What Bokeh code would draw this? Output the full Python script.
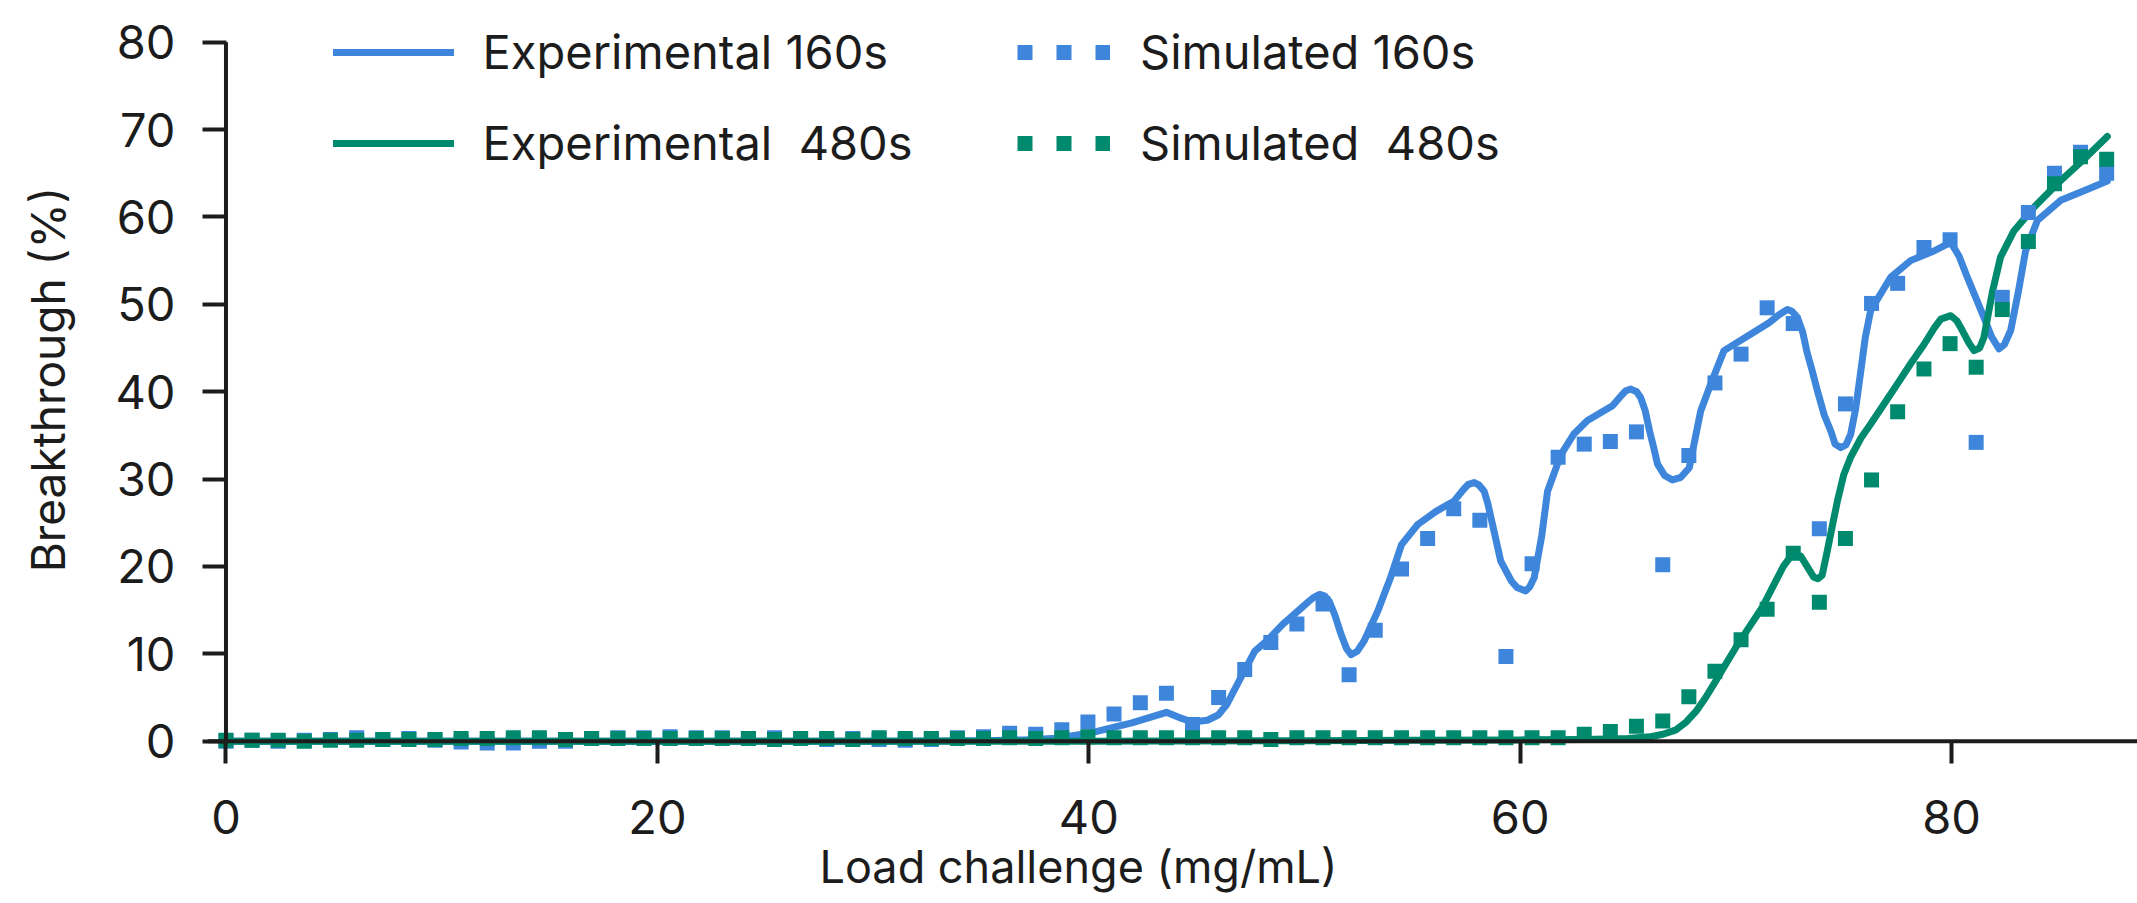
from bokeh.plotting import figure
from bokeh.models import ColumnDataSource, Legend, LegendItem, Range1d, Span, Title
from bokeh.embed import file_html
from bokeh.resources import INLINE

# ---------------- data ----------------
sim_x = [0.0, 1.21, 2.42, 3.63, 4.84, 6.06, 7.27, 8.48, 9.69, 10.9,
         12.11, 13.32, 14.53, 15.74, 16.95, 18.17, 19.38, 20.59, 21.8, 23.01,
         24.22, 25.43, 26.64, 27.85, 29.06, 30.28, 31.49, 32.7, 33.91, 35.12,
         36.33, 37.54, 38.75, 39.96, 41.17, 42.39, 43.6, 44.81, 46.02, 47.23,
         48.44, 49.65, 50.86, 52.07, 53.28, 54.5, 55.71, 56.92, 58.13, 59.34,
         60.55, 61.76, 62.97, 64.18, 65.39, 66.61, 67.82, 69.03, 70.24, 71.45,
         72.66, 73.87, 75.08, 76.29, 77.5, 78.72, 79.93, 81.14, 82.35, 83.56,
         84.77, 85.98, 87.19]

sim_160 = [0.0, 0.1, 0.0, 0.1, 0.2, 0.4, 0.2, 0.3, 0.1, -0.1,
           -0.2, -0.2, 0.0, 0.0, 0.3, 0.4, 0.4, 0.5, 0.4, 0.4,
           0.3, 0.4, 0.3, 0.2, 0.3, 0.2, 0.1, 0.2, 0.4, 0.5,
           0.9, 0.8, 1.3, 2.2, 3.1, 4.4, 5.5, 1.9, 5.0, 8.2,
           11.3, 13.4, 15.7, 7.6, 12.7, 19.7, 23.2, 26.6, 25.3, 9.7,
           20.3, 32.5, 34.0, 34.3, 35.4, 20.2, 32.7, 41.0, 44.3, 49.6,
           47.8, 24.3, 38.6, 50.1, 52.4, 56.5, 57.4, 34.2, 50.8, 60.5,
           65.0, 67.4, 65.0]

sim_480 = [0.1, 0.1, 0.1, 0.0, 0.1, 0.1, 0.2, 0.2, 0.2, 0.3,
           0.3, 0.4, 0.4, 0.2, 0.3, 0.3, 0.3, 0.3, 0.3, 0.3,
           0.3, 0.2, 0.3, 0.3, 0.2, 0.4, 0.3, 0.3, 0.3, 0.3,
           0.4, 0.3, 0.4, 0.5, 0.4, 0.4, 0.4, 0.4, 0.4, 0.4,
           0.2, 0.4, 0.4, 0.4, 0.4, 0.4, 0.4, 0.4, 0.4, 0.4,
           0.4, 0.4, 0.8, 1.1, 1.7, 2.3, 5.1, 8.0, 11.6, 15.1,
           21.5, 15.9, 23.2, 29.9, 37.7, 42.6, 45.5, 42.8, 49.4, 57.2,
           63.8, 66.9, 66.6]

exp160_x = [0, 5, 10, 15, 20, 25, 30, 35, 37, 38.5, 40, 41, 42, 42.8, 43.6,
            44.2, 44.8, 45.5, 46.0, 46.4, 47.2, 47.7, 48.3, 49.0, 49.7, 50.2,
            50.45, 50.7, 50.95, 51.15, 51.4, 51.7, 51.95, 52.16, 52.45, 52.77,
            53.4, 54.0, 54.5, 55.25, 56.1, 56.94, 57.4, 57.6, 57.87, 58.1,
            58.33, 58.5, 58.7, 59.1, 59.6, 59.85, 60.26, 60.45, 60.65, 61.0,
            61.27, 61.89, 62.5, 63.12, 64.28, 64.7, 64.9, 65.13, 65.4, 65.59,
            65.8, 66.0, 66.2, 66.37, 66.7, 67.06, 67.45, 67.84, 68.37, 68.84,
            69.45, 70.7, 71.54, 72.0, 72.39, 72.6, 72.85, 73.1, 73.3, 73.55,
            73.78, 74.1, 74.4, 74.6, 74.86, 75.1, 75.32, 75.55, 75.8, 76.0,
            76.25, 77.18, 78.1, 79.18, 79.96, 80.35, 80.73, 81.5, 81.85, 82.2,
            82.45, 82.74, 83.1, 83.43, 83.98, 85.06, 86.14, 87.22]
exp160_y = [0, 0, 0, 0, 0, 0, 0, 0.05, 0.15, 0.35, 0.9, 1.5, 2.1, 2.7, 3.3,
            2.7, 2.2, 2.4, 3.0, 4.2, 8.0, 10.3, 11.6, 13.4, 14.9, 16.0,
            16.5, 16.8, 16.6, 16.0, 14.5, 12.2, 10.6, 9.9, 10.3, 11.5,
            14.9, 18.8, 22.5, 24.8, 26.3, 27.5, 28.9, 29.4, 29.6, 29.3,
            28.6, 27.2, 25.0, 20.6, 18.3, 17.6, 17.2, 17.7, 18.7, 23.5,
            28.6, 32.8, 35.2, 36.7, 38.4, 39.6, 40.1, 40.3, 40.0, 39.3,
            37.8, 35.5, 33.5, 31.7, 30.4, 29.9, 30.2, 31.3, 37.8, 40.9,
            44.7, 46.6, 47.9, 48.8, 49.4, 49.2, 48.5, 46.8, 44.5, 42.3,
            40.1, 37.3, 35.5, 34.0, 33.6, 33.9, 35.1, 38.0, 42.5, 46.2,
            49.3, 53.1, 55.0, 56.1, 57.1, 55.5, 53.1, 48.5, 46.3, 44.9,
            45.4, 47.0, 51.5, 56.1, 59.6, 61.9, 63.0, 64.1]

exp480_x = [0, 10, 20, 30, 40, 50, 55, 60, 63, 65, 66.0, 66.62, 67.23, 67.7,
            68.15, 68.6, 69.07, 69.5, 69.99, 70.6, 71.22, 71.7, 72.2, 72.65,
            73.0, 73.4, 73.6, 73.8, 74.0, 74.24, 74.5, 74.71, 75.0, 75.32,
            75.8, 76.25, 76.9, 77.49, 78.1, 78.72, 79.2, 79.5, 79.96, 80.25,
            80.5, 80.8, 81.04, 81.3, 81.5, 81.9, 82.27, 82.89, 83.82, 84.9,
            86.14, 87.22]
exp480_y = [0, 0, 0, 0, 0, 0.05, 0.1, 0.15, 0.2, 0.3, 0.5, 0.8, 1.3, 2.2,
            3.4, 5.0, 6.9, 8.7, 10.7, 13.0, 15.3, 17.6, 20.0, 21.5,
            21.2, 19.6, 18.8, 18.6, 19.0, 21.8, 25.0, 27.5, 30.5, 32.5,
            34.7, 36.3, 38.7, 40.9, 43.2, 45.4, 47.3, 48.3, 48.7, 48.1,
            47.0, 45.6, 44.7, 45.0, 46.2, 51.5, 55.4, 58.4, 61.1, 63.8,
            66.6, 69.2]

x_ticks = [0, 20, 40, 60, 80]
y_ticks = [0, 10, 20, 30, 40, 50, 60, 70, 80]

labels = ["Experimental 160s", "Experimental  480s", "Simulated 160s", "Simulated  480s"]
x_title = "Load challenge (mg/mL)"
y_title = "Breakthrough (%)"

# ---------------- style ----------------
BLUE = "#3e86db"
GREEN = "#008a6d"
INK = "#1c1c1c"
FONT = "Inter"

W, H = 2137, 903
p = figure(width=W, height=H, output_backend="svg", toolbar_location=None,
           x_range=Range1d(-0.857, 88.62), y_range=Range1d(-1.98, 84.77),
           min_border_left=207, min_border_right=0, min_border_top=0,
           min_border_bottom=145)
p.outline_line_color = None
p.xgrid.visible = False
p.ygrid.visible = False
p.background_fill_color = "white"
p.border_fill_color = "white"

for ax, ticks in ((p.xaxis, x_ticks), (p.yaxis, y_ticks)):
    ax.ticker = ticks
    ax.axis_line_color = None
    ax.major_tick_line_width = 4
    ax.major_tick_line_color = INK
    ax.major_tick_out = 5
    ax.minor_tick_out = 0
    ax.minor_tick_in = 0
    ax.major_label_text_font = FONT
    ax.major_label_text_font_size = "47px"
    ax.major_label_text_color = INK
p.xaxis.major_tick_in = 18
p.yaxis.major_tick_in = 19
p.xaxis.major_label_standoff = 36
p.yaxis.major_label_standoff = 27

p.yaxis.axis_label = y_title
p.yaxis.axis_label_text_font = FONT
p.yaxis.axis_label_text_font_size = "46px"
p.yaxis.axis_label_text_font_style = "normal"
p.yaxis.axis_label_text_color = INK
p.yaxis.axis_label_standoff = 36

p.add_layout(Title(text=x_title, align="left", offset=612, text_font=FONT,
                   text_font_size="45px", text_font_style="normal",
                   text_color=INK, standoff=0), "below")

src160 = ColumnDataSource(dict(x=exp160_x, y=exp160_y))
src480 = ColumnDataSource(dict(x=exp480_x, y=exp480_y))
srcsim = ColumnDataSource(dict(x=sim_x, b=sim_160, g=sim_480))

r_e160 = p.line("x", "y", source=src160, line_color=BLUE, line_width=7,
                line_join="round", line_cap="round")
r_e480 = p.line("x", "y", source=src480, line_color=GREEN, line_width=7,
                line_join="round", line_cap="round")
p.scatter("x", "b", source=srcsim, marker="square", size=15,
          fill_color=BLUE, line_color=None)
p.scatter("x", "g", source=srcsim, marker="square", size=15,
          fill_color=GREEN, line_color=None)

# hidden renderers that give the square-dot legend sample
r_s160 = p.line("x", "b", source=srcsim, line_color=BLUE, line_width=15,
                line_dash="15 24", line_cap="butt", visible=False)
r_s480 = p.line("x", "g", source=srcsim, line_color=GREEN, line_width=15,
                line_dash="15 24", line_cap="butt", visible=False)

# axis lines through the origin
p.add_layout(Span(location=y_ticks[0], dimension="width", line_color=INK,
                  line_width=4))
p.segment(x0=[x_ticks[0]], y0=[y_ticks[0]], x1=[x_ticks[0]], y1=[y_ticks[-1]],
          line_color=INK, line_width=4)


def make_legend(items, loc, gw, standoff):
    lg = Legend(items=items, location=loc, orientation="vertical",
                glyph_width=gw, glyph_height=64, label_height=64,
                label_standoff=standoff, spacing=27, padding=0, margin=0,
                border_line_color=None, background_fill_alpha=0,
                inactive_fill_alpha=0, click_policy="none",
                label_text_font=FONT, label_text_font_size="47px",
                label_text_color=INK)
    p.add_layout(lg)


make_legend([LegendItem(label=labels[0], renderers=[r_e160]),
             LegendItem(label=labels[1], renderers=[r_e480])],
            (125.6, 583.5), 121, 29)
make_legend([LegendItem(label=labels[2], renderers=[r_s160]),
             LegendItem(label=labels[3], renderers=[r_s480])],
            (810, 583.5), 93, 30)

open("out.html", "w").write(file_html(p, INLINE))
